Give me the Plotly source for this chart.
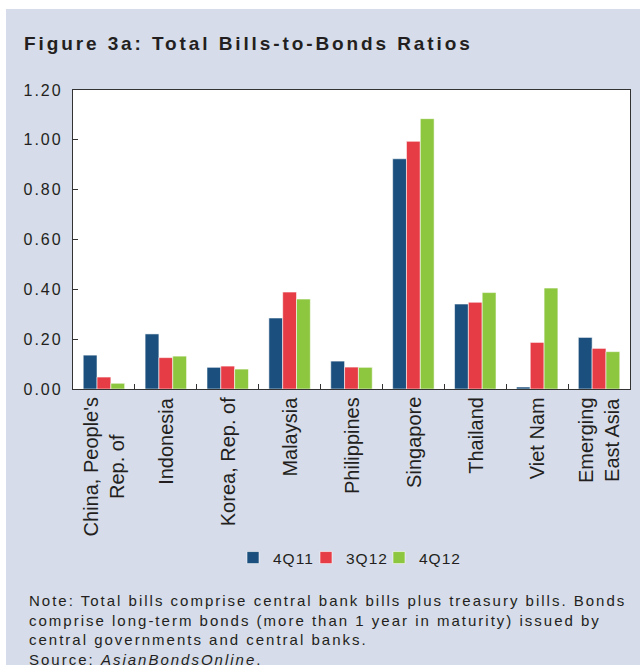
import plotly.graph_objects as go

# Bills-to-bonds ratios by market
markets = ["China, People's Rep. of", "Indonesia", "Korea, Rep. of", "Malaysia",
           "Philippines", "Singapore", "Thailand", "Viet Nam", "Emerging East Asia"]
market_labels = ["China, People's<br>Rep. of", "Indonesia", "Korea, Rep. of", "Malaysia",
                 "Philippines", "Singapore", "Thailand", "Viet Nam", "Emerging<br>East Asia"]

ratio_4q11 = [0.136, 0.221, 0.087, 0.285, 0.112, 0.924, 0.341, 0.008, 0.207]
ratio_3q12 = [0.048, 0.126, 0.092, 0.389, 0.088, 0.994, 0.348, 0.187, 0.163]
ratio_4q12 = [0.023, 0.132, 0.080, 0.361, 0.087, 1.085, 0.387, 0.405, 0.150]

series_names = ["4Q11", "3Q12", "4Q12"]
series_colors = ["#1b4f7d", "#e63c46", "#8dc63f"]

y_ticks = [0.0, 0.2, 0.4, 0.6, 0.8, 1.0, 1.2]

title_text = "Figure 3a: Total Bills-to-Bonds Ratios"
note_text = ("Note: Total bills comprise central bank bills plus treasury bills. Bonds<br>"
             "comprise long-term bonds (more than 1 year in maturity) issued by<br>"
             "central governments and central banks.<br>"
             "Source: <i>AsianBondsOnline</i>.")

W, H = 640, 670
L, R, T, B = 73, 630, 90, 389          # plot-area edges in pixels
FONT = "Liberation Sans, Arial, Helvetica, sans-serif"
INK = "#231f20"
PANEL = "#d6dce9"


def px(x):
    return (x - L) / (R - L)


def py(y):
    return (B - y) / (B - T)


fig = go.Figure()
for name, vals, col in zip(series_names, [ratio_4q11, ratio_3q12, ratio_4q12], series_colors):
    fig.add_trace(go.Bar(
        x=markets, y=vals, name=name,
        marker=dict(color=col, line=dict(color="rgba(255,255,255,0.7)", width=0.8)),
    ))

shapes = [
    # tinted panel behind the whole figure
    dict(type="rect", xref="paper", yref="paper", layer="below",
         x0=px(6), x1=px(640), y0=py(665), y1=py(9),
         fillcolor=PANEL, line=dict(width=0)),
    # white plotting area
    dict(type="rect", xref="paper", yref="paper", layer="below",
         x0=0, x1=1, y0=0, y1=1, fillcolor="white", line=dict(width=0)),
]

annotations = [
    dict(text=f"<b>{title_text}</b>", xref="paper", yref="paper",
         x=px(22), y=py(43.5), xanchor="left", yanchor="middle", align="left",
         showarrow=False, font=dict(family=FONT, size=19, color=INK)),
    dict(text=note_text, xref="paper", yref="paper",
         x=px(27), y=py(630), xanchor="left", yanchor="middle", align="left",
         showarrow=False, font=dict(family=FONT, size=15, color=INK)),
]
for m, lab in zip(markets, market_labels):
    annotations.append(dict(
        text=lab, xref="x", yref="paper", x=m, y=py(395),
        xanchor="center", yanchor="top", textangle=-90, align="center",
        showarrow=False, font=dict(family=FONT, size=20, color=INK)))

fig.update_layout(
    width=W, height=H,
    margin=dict(l=L, r=W - R, t=T, b=H - B, pad=0),
    paper_bgcolor="white", plot_bgcolor="white",
    font=dict(family=FONT, color=INK),
    barmode="group", bargap=0.33, bargroupgap=0,
    showlegend=True,
    legend=dict(orientation="h", x=px(233), xanchor="left", y=py(558), yanchor="middle",
                bgcolor="rgba(0,0,0,0)", font=dict(family=FONT, size=15.5, color=INK),
                traceorder="normal", entrywidth=28, entrywidthmode="pixels"),
    shapes=shapes, annotations=annotations,
    xaxis=dict(showticklabels=False, showline=True, mirror=True, linecolor="#333333",
               linewidth=1.3, ticks="inside", tickson="boundaries", ticklen=5,
               tickcolor="#333333", tickwidth=1, showgrid=False, zeroline=False),
    yaxis=dict(range=[0, 1.2], tickvals=y_ticks, tickformat=".2f",
               showline=True, mirror=True, linecolor="#333333", linewidth=1.3,
               ticks="inside", ticklen=5, tickcolor="#333333", tickwidth=1,
               showgrid=False, zeroline=False, ticklabelstandoff=6,
               tickfont=dict(family=FONT, size=16, color=INK)),
)

# Typographic tracking for the wide-set lettering; legend entries may run
# past their fixed entry width, so the legend box is left unclipped.
tracking = """
var gd = document.getElementById('{plot_id}');
function track(sel, v) {
  gd.querySelectorAll(sel).forEach(function (t) { t.style.letterSpacing = v; });
}
track('g.annotation[data-index="0"] text', '2.9px');
track('g.annotation[data-index="1"] text', '2px');
track('g.ytick text', '2px');
track('text.legendtext', '1px');
gd.querySelectorAll('g.legend [clip-path]').forEach(function (e) {
  e.removeAttribute('clip-path');
});
"""

fig.write_html("out.html", post_script=tracking)
